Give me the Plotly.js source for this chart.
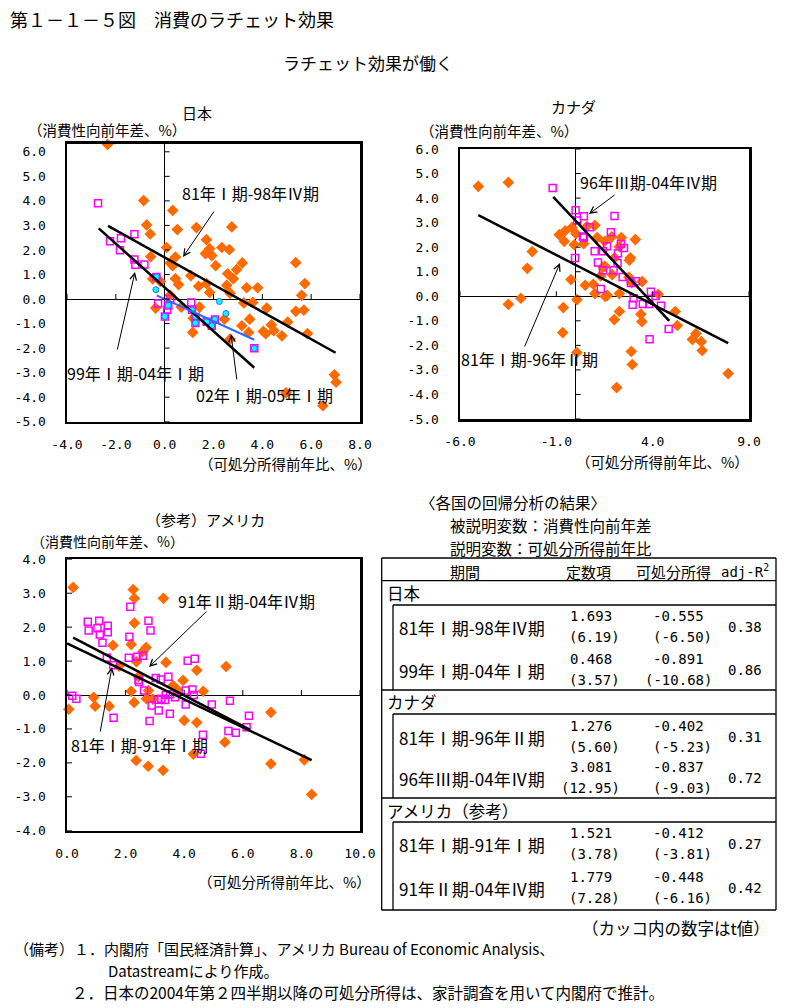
<!DOCTYPE html>
<html><head><meta charset="utf-8">
<script src="https://cdn.plot.ly/plotly-3.0.1.min.js"></script>
<style>html,body{margin:0;padding:0;background:#fff;}#chart{width:790px;height:1008px;}</style>
</head><body><div id="chart"></div>
<script>
// ---------------- DATA ----------------
// Japan 81Q1-98Q4 (orange diamonds)
const jpA_x = [-2.34,-0.86,0.33,-0.74,0.52,-0.59,1.30,2.75,1.71,0.08,1.84,2.34,2.65,1.67,1.93,0.44,-0.57,0.33,0.23,2.09,3.18,2.95,2.58,1.07,-0.49,0.44,2.81,-0.18,1.72,0.57,2.54,1.39,3.36,3.81,5.37,5.74,1.84,2.68,5.61,0.23,3.24,3.61,-0.37,0.68,1.43,4.18,1.17,2.45,3.48,5.37,5.70,5.04,3.16,4.37,4.04,4.14,4.47,4.80,3.44,5.85,1.15,2.68,4.97,6.95,7.02,6.48];
const jpA_y = [6.30,4.01,3.61,3.02,2.83,2.65,2.91,2.94,2.42,2.10,2.05,2.10,2.01,1.85,1.77,1.71,1.73,1.36,1.47,1.36,1.47,1.20,1.03,0.95,0.82,0.83,0.83,0.72,0.63,0.59,0.56,0.52,0.46,0.46,1.48,0.63,0.27,0.24,0.15,0.15,-0.16,-0.14,-0.37,-0.33,-0.33,-0.37,-0.78,-0.82,-0.82,-0.50,-0.45,-0.94,-1.09,-1.05,-1.32,-1.41,-1.29,-1.50,-1.36,-1.41,-1.36,-1.63,-3.82,-3.09,-3.39,-4.35];
// Japan 99Q1-04Q1 (magenta squares)
const jpB_x = [-2.73,-2.24,-1.79,-1.24,-1.83,-1.24,-1.20,-0.83,-0.34,-0.27,0.01,0.15,0.10,0.23,1.09,1.12,1.26,1.26,1.72,1.93,2.06,3.67];
const jpB_y = [3.90,2.35,2.48,2.64,1.99,1.61,1.40,1.41,0.90,-0.18,-0.71,-0.26,-0.44,0.00,-0.14,-0.44,-0.73,-0.98,-0.93,-1.09,-0.83,-2.01];
// Japan 02Q1-05Q1 (cyan circles)
const jpC_x = [-0.34,-0.36,0.01,0.15,1.12,1.27,1.26,1.72,1.93,2.06,2.24,2.51,3.67];
const jpC_y = [0.90,0.38,-0.71,-0.26,-0.44,-0.71,-0.98,-0.93,-1.09,-0.83,-0.10,-0.59,-2.01];
// Japan fitted lines (end points)
const jpL1_x = [-2.32, 7.0],  jpL1_y = [2.98, -2.19];
const jpL2_x = [-2.70, 3.67], jpL2_y = [2.88, -2.80];
const jpL3_x = [-0.33, 3.67], jpL3_y = [0.15, -1.66];

// Canada 81Q1-96Q2 (orange)
const caA_x = [-5.05,-3.49,-2.25,-2.51,-3.49,-2.84,-0.85,-0.54,-0.59,-0.19,0.02,-0.07,0.42,1.00,0.59,1.12,1.51,-0.24,0.50,0.92,1.00,1.30,1.42,1.64,1.54,1.87,2.02,2.37,2.27,1.90,2.84,2.79,3.10,2.27,3.46,2.77,2.91,4.29,0.07,-0.64,-0.67,0.07,2.27,2.01,3.39,3.44,2.89,2.94,2.13,5.17,5.28,6.25,6.06,6.52,6.57,7.92,1.52];
const caA_y = [4.48,4.64,1.82,1.14,-0.33,-0.08,2.51,2.67,2.24,2.80,2.55,2.10,2.14,2.89,2.85,2.39,2.24,0.68,0.45,0.49,0.11,0.83,1.19,0.04,-0.01,2.42,1.57,2.39,2.02,0.88,1.57,1.47,2.31,0.11,0.60,0.77,0.56,0.08,-0.14,-0.46,-1.48,-2.29,-0.62,-0.95,-0.73,-1.03,-2.25,-2.78,-3.72,-0.62,-1.19,-1.52,-1.76,-1.85,-2.21,-3.15,1.22];
// Canada 96Q3-04Q4 (magenta)
const caB_x = [-1.19,0.00,0.09,0.43,2.02,0.73,0.38,0.43,1.83,1.63,2.35,2.51,2.20,0.99,1.42,-0.03,1.16,2.18,1.97,1.42,2.44,1.31,2.87,3.13,3.91,4.15,3.01,2.96,3.49,3.82,4.43,4.83,3.84];
const caB_y = [4.41,3.50,3.09,3.26,3.27,2.81,2.44,2.39,2.61,2.04,2.13,1.97,1.75,1.83,1.83,1.56,1.38,1.36,1.06,1.06,0.79,0.30,0.54,0.61,0.18,0.01,-0.08,-0.35,-0.31,-0.31,-0.39,-1.33,-1.75];
const caL1_x = [-5.05, 7.92], caL1_y = [3.31, -1.91];
const caL2_x = [-1.16, 4.86], caL2_y = [4.05, -1.00];

// USA 81Q1-91Q1 (orange)
const usA_x = [0.21,2.26,2.30,3.29,2.30,1.57,2.19,2.70,2.59,2.37,1.78,3.38,4.43,5.43,2.44,3.96,3.62,3.76,2.19,2.78,4.65,0.91,2.71,2.93,0.96,1.44,2.29,0.06,4.00,4.43,6.96,5.39,4.31,2.36,2.77,3.28,6.96,8.10,8.35];
const usA_y = [3.17,3.11,2.85,2.85,2.12,1.46,1.49,1.40,1.28,0.98,0.85,0.96,0.73,0.84,0.54,0.43,0.28,0.16,0.11,0.13,0.11,-0.07,-0.11,-0.12,-0.33,-0.33,-0.22,-0.42,-0.75,-0.81,-0.51,-1.39,-1.74,-1.93,-2.10,-2.22,-2.03,-1.91,-2.93];
// USA 91Q2-04Q4 (magenta)
const usB_x = [2.16,0.71,1.10,1.04,1.39,0.74,1.12,1.39,2.13,2.78,2.85,1.21,1.36,2.11,2.40,2.59,1.58,2.44,2.46,3.03,3.20,3.46,4.12,4.36,2.63,3.10,3.22,3.35,3.37,3.52,3.69,4.05,4.28,4.33,2.89,3.13,3.51,4.05,2.82,1.59,0.18,0.32,4.94,5.56,6.21,6.13,5.51,5.76,4.64,4.57];
const usB_y = [2.60,2.16,2.19,1.97,2.04,1.90,1.78,1.85,1.72,2.19,1.90,1.54,1.10,1.10,1.13,1.16,0.88,0.44,0.38,0.50,0.46,0.54,1.01,1.07,0.13,-0.14,-0.11,-0.15,0.00,0.02,-0.07,0.13,0.16,0.00,-0.31,-0.46,-0.55,-0.28,-0.77,-0.67,-0.02,-0.11,-0.28,-0.17,-0.61,-0.95,-1.06,-1.11,-1.17,-1.73];
const usL1_x = [0.0, 8.35],  usL1_y = [1.52, -1.92];
const usL2_x = [0.21, 6.24], usL2_y = [1.69, -1.02];

// Tick labels
const jpXticks = [-4,-2,0,2,4,6,8];
const jpYticks = [-5,-4,-3,-2,-1,0,1,2,3,4,5,6];
const caXticks = [-6,-1,4,9];
const caYticks = [-5,-4,-3,-2,-1,0,1,2,3,4,5,6];
const usXticks = [0,2,4,6,8,10];
const usYticks = [-4,-3,-2,-1,0,1,2,3,4];

// Table
const tblGroups = ['日本','カナダ','アメリカ（参考）'];
const tblPeriods = ['81年Ⅰ期-98年Ⅳ期','99年Ⅰ期-04年Ⅰ期','81年Ⅰ期-96年Ⅱ期','96年Ⅲ期-04年Ⅳ期','81年Ⅰ期-91年Ⅰ期','91年Ⅱ期-04年Ⅳ期'];
const tblConst  = ['1.693','0.468','1.276','3.081','1.521','1.779'];
const tblConstT = ['(6.19)','(3.57)','(5.60)','(12.95)','(3.78)','(7.28)'];
const tblSlope  = ['-0.555','-0.891','-0.402','-0.837','-0.412','-0.448'];
const tblSlopeT = ['(-6.50)','(-10.68)','(-5.23)','(-9.03)','(-3.81)','(-6.16)'];
const tblR2     = ['0.38','0.86','0.31','0.72','0.27','0.42'];

// ---------------- BUILD ----------------
const W = 790, H = 1008;
const px = v => v / W, py = v => 1 - v / H;
const JP = 'Noto Sans CJK JP', MONO = 'DejaVu Sans Mono';
const ORANGE = '#FF6A00', MAGENTA = '#FF00FF', CYAN = '#00FFFF', BLUE = '#3366FF';

function diamonds(x, y, xa, ya) {
  return {x, y, xaxis: xa, yaxis: ya, type: 'scatter', mode: 'markers', cliponaxis: false,
    marker: {symbol: 'diamond', size: 9, color: ORANGE, line: {width: 0}}, hoverinfo: 'skip'};
}
function squares(x, y, xa, ya) {
  return {x, y, xaxis: xa, yaxis: ya, type: 'scatter', mode: 'markers', cliponaxis: false,
    marker: {symbol: 'square-open', size: 7, color: MAGENTA, line: {width: 1.5, color: MAGENTA}}, hoverinfo: 'skip'};
}
function circles(x, y, xa, ya) {
  return {x, y, xaxis: xa, yaxis: ya, type: 'scatter', mode: 'markers', cliponaxis: false,
    marker: {symbol: 'circle', size: 6, color: CYAN, line: {width: 1, color: BLUE}}, hoverinfo: 'skip'};
}
function line(x, y, xa, ya, color, w) {
  return {x, y, xaxis: xa, yaxis: ya, type: 'scatter', mode: 'lines',
    line: {color: color || '#000', width: w || 2.5}, hoverinfo: 'skip'};
}

const traces = [
  diamonds(jpA_x, jpA_y, 'x', 'y'), squares(jpB_x, jpB_y, 'x', 'y'), circles(jpC_x, jpC_y, 'x', 'y'),
  line(jpL1_x, jpL1_y, 'x', 'y'), line(jpL2_x, jpL2_y, 'x', 'y'), line(jpL3_x, jpL3_y, 'x', 'y', BLUE, 2),
  diamonds(caA_x, caA_y, 'x2', 'y2'), squares(caB_x, caB_y, 'x2', 'y2'),
  line(caL1_x, caL1_y, 'x2', 'y2'), line(caL2_x, caL2_y, 'x2', 'y2'),
  diamonds(usA_x, usA_y, 'x3', 'y3'), squares(usB_x, usB_y, 'x3', 'y3'),
  line(usL1_x, usL1_y, 'x3', 'y3'), line(usL2_x, usL2_y, 'x3', 'y3')
];

function axis(domain, range, ticks, anchor, isY) {
  return {domain, range, anchor, showgrid: false, zeroline: true, zerolinecolor: '#000', zerolinewidth: 1,
    showline: true, mirror: true, linecolor: '#000', linewidth: 2.5, ticks: '',
    tickmode: 'array', tickvals: ticks, ticktext: ticks.map(v => v.toFixed(1)),
    ticklabelstandoff: isY ? 16 : 9,
    tickfont: {family: MONO, size: 13, color: '#000'}, fixedrange: true};
}

const layout = {
  width: W, height: H, margin: {l: 0, r: 0, t: 0, b: 0}, paper_bgcolor: '#fff', plot_bgcolor: '#fff',
  showlegend: false, font: {family: JP, color: '#000'},
  xaxis: axis([px(67), px(360)], [-4, 8], jpXticks, 'y', false),
  yaxis: axis([py(421.7), py(143.7)], [-5, 6.33], jpYticks, 'x', true),
  xaxis2: axis([px(460), px(749)], [-6, 9], caXticks, 'y2', false),
  yaxis2: axis([py(419), py(149)], [-5, 6], caYticks, 'x2', true),
  xaxis3: axis([px(67), px(360)], [0, 10], usXticks, 'y3', false),
  yaxis3: axis([py(830.7), py(559.3)], [-4, 4], usYticks, 'x3', true),
  shapes: [], annotations: []
};

// small ticks on the crossing axes
function zeroTicks(xa, ya, xt, yt) {
  yt.forEach(v => layout.shapes.push({type: 'line', xref: xa, yref: ya, xsizemode: 'pixel', xanchor: 0,
    x0: 0, x1: 5, y0: v, y1: v, line: {color: '#000', width: 1}}));
  xt.forEach(v => layout.shapes.push({type: 'line', xref: xa, yref: ya, ysizemode: 'pixel', yanchor: 0,
    y0: 0, y1: 5, x0: v, x1: v, line: {color: '#000', width: 1}}));
}
zeroTicks('x', 'y', jpXticks, jpYticks);
zeroTicks('x2', 'y2', caXticks, caYticks);
zeroTicks('x3', 'y3', usXticks, usYticks);

function T(text, x, y, size, xa, fam) {
  layout.annotations.push({text, x: px(x), y: py(y), xref: 'paper', yref: 'paper', showarrow: false,
    xanchor: xa || 'center', yanchor: 'middle', font: {family: fam || JP, size: size || 14, color: '#000'}});
}
function A(tipx, tipy, tailx, taily) {
  layout.annotations.push({text: '', x: px(tipx), y: py(tipy), xref: 'paper', yref: 'paper', showarrow: true,
    ax: tailx - tipx, ay: taily - tipy, arrowhead: 5, arrowsize: 1.3, arrowwidth: 1, arrowcolor: '#000'});
}

// titles
T('第１－１－５図　消費のラチェット効果', 8, 19, 18, 'left');
T('ラチェット効果が働く', 368, 62, 17);
T('日本', 197, 112, 15);
T('カナダ', 573, 107, 15);
T('（参考）アメリカ', 205, 519, 15);
T('（消費性向前年差、%）', 107, 129, 14.5);
T('（消費性向前年差、%）', 499, 130, 14.5);
T('（消費性向前年差、%）', 107, 541, 14);
T('（可処分所得前年比、%）', 285, 464, 14.5);
T('（可処分所得前年比、%）', 662, 462, 14.5);
T('（可処分所得前年比、%）', 284, 881, 14.5);

// chart labels + arrows
T('81年Ⅰ期-98年Ⅳ期', 250, 193, 16);
T('99年Ⅰ期-04年Ⅰ期', 135, 373, 16);
T('02年Ⅰ期-05年Ⅰ期', 264, 395, 16);
A(183, 257, 215, 210); A(135, 272, 117, 351); A(231, 334, 237, 381);
T('96年Ⅲ期-04年Ⅳ期', 648, 182, 16);
T('81年Ⅰ期-96年Ⅱ期', 529, 359, 16);
A(589, 214, 616, 194); A(560, 263, 524, 348);
T('91年Ⅱ期-04年Ⅳ期', 246, 601, 16);
T('81年Ⅰ期-91年Ⅰ期', 139, 745, 16);
A(149, 667, 208, 610); A(112, 667, 100, 733);

// table
T('〈各国の回帰分析の結果〉', 418, 502, 15.5, 'left');
T('被説明変数：消費性向前年差', 448, 525, 15.5, 'left');
T('説明変数：可処分所得前年比', 448, 548, 15.5, 'left');
function L(x0, y0, x1, y1, w) {
  layout.shapes.push({type: 'line', xref: 'paper', yref: 'paper', x0: px(x0), y0: py(y0), x1: px(x1), y1: py(y1),
    line: {color: '#000', width: w || 1.3}});
}
const TL = 381.7, TR = 776, TT = 558, TB = 910;
L(TL, TT, TR, TT); L(TL, TB, TR, TB); L(TL, TT, TL, TB); L(TR, TT, TR, TB);
L(TL, 580.7, TR, 580.7);
L(TL, 690, TR, 690); L(TL, 798, TR, 798);
const inner = [[605, 690], [714, 798], [822, 910]];
inner.forEach(r => { L(393, r[0], TR, r[0]); L(393, r[0], 393, r[1]); });
T('期間', 465, 571, 15);
T('定数項', 588, 571, 15);
T('可処分所得', 673, 571, 15);
T('adj-R<sup>2</sup>', 745, 571, 14, 'center', MONO);
const groupY = [593, 702, 811];
tblGroups.forEach((g, i) => T(g, 385, groupY[i], 16.5, 'left'));
const rowY = [627, 670, 737, 778, 844, 888];
tblPeriods.forEach((p, i) => {
  const y = rowY[i];
  T(p, 397, y, 17, 'left');
  T(tblConst[i], 614, y - 11, 14, 'right', MONO);
  T(tblConstT[i], 622, y + 10, 14, 'right', MONO);
  T(tblSlope[i], 706, y - 11, 14, 'right', MONO);
  T(tblSlopeT[i], 714, y + 10, 14, 'right', MONO);
  T(tblR2[i], 745, y, 14, 'center', MONO);
});
T('（カッコ内の数字はt値）', 772, 928, 16.5, 'right');

// notes
T('（備考）１．内閣府「国民経済計算」、アメリカ Bureau of Economic Analysis、', 12, 948, 15, 'left');
T('Datastreamにより作成。', 106, 970, 15, 'left');
T('２．日本の2004年第２四半期以降の可処分所得は、家計調査を用いて内閣府で推計。', 70, 992, 15.5, 'left');

Plotly.newPlot('chart', traces, layout, {staticPlot: true, displayModeBar: false});
</script>
</body></html>
